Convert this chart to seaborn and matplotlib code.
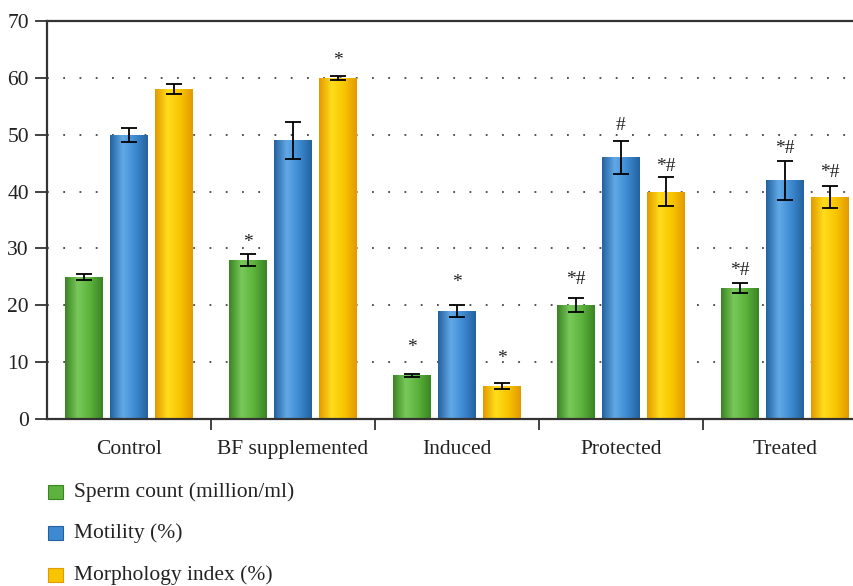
import numpy as np
import pandas as pd
import matplotlib
matplotlib.use("Agg")
import matplotlib.pyplot as plt
import seaborn as sns
from matplotlib.colors import LinearSegmentedColormap

groups = ["Control", "BF supplemented", "Induced", "Protected", "Treated"]
series = ["Sperm count (million/ml)", "Motility (%)", "Morphology index (%)"]

sperm_count = [25, 28, 7.7, 20, 23]
motility = [50, 49, 19, 46, 42]
morphology = [58, 60, 5.8, 40, 39]

sperm_err = [0.5, 1.1, 0.3, 1.2, 0.9]
motility_err = [1.2, 3.2, 1.1, 2.9, 3.4]
morphology_err = [0.9, 0.4, 0.5, 2.5, 1.9]

sperm_sig = ["", "*", "*", "*#", "*#"]
motility_sig = ["", "", "*", "#", "*#"]
morphology_sig = ["", "*", "*", "*#", "*#"]

# vertical gap (points) between the error-bar cap and the significance mark
sperm_gap = [0, 8, 19, 14, 9]
motility_gap = [0, 0, 16, 11, 9]
morphology_gap = [0, 11, 18, 8, 10]

base_colors = ["#5cb23c", "#3d8ad2", "#f7c500"]
dark_colors = ["#3a8424", "#23629f", "#e39a00"]
light_colors = ["#79c95a", "#62a9e6", "#ffdd1c"]

rows = []
for s, vals in zip(series, [sperm_count, motility, morphology]):
    for g, v in zip(groups, vals):
        rows.append({"group": g, "series": s, "value": v})
df = pd.DataFrame(rows)

sns.set_theme(style="white")
plt.rcParams["font.family"] = ["Liberation Serif", "DejaVu Serif"]

fig = plt.figure(figsize=(8.54, 5.86), dpi=100)
ax = fig.add_axes([47 / 854, 167 / 586, 820 / 854, 398 / 586])

sns.barplot(data=df, x="group", y="value", hue="series", order=groups,
            hue_order=series, palette=base_colors, width=0.825, gap=0.16,
            errorbar=None, ax=ax, legend=False, saturation=1)

errs = [sperm_err, motility_err, morphology_err]
sigs = [sperm_sig, motility_sig, morphology_sig]
gaps = [sperm_gap, motility_gap, morphology_gap]
vals_all = [sperm_count, motility, morphology]

# Patches come in hue order, then group order
patches = [p for p in ax.patches]
for si in range(3):
    cmap = LinearSegmentedColormap.from_list(
        f"c{si}", [dark_colors[si], light_colors[si], base_colors[si], dark_colors[si]])
    for gi in range(5):
        p = patches[si * 5 + gi]
        x0, w, h = p.get_x(), p.get_width(), p.get_height()
        p.set_facecolor("none")
        p.set_edgecolor("none")
        grad = np.linspace(0, 1, 64).reshape(1, -1)
        im = ax.imshow(grad, cmap=cmap, aspect="auto",
                       extent=[x0, x0 + w, 0, h], zorder=2, interpolation="bicubic")
        im.set_clip_path(p)
        xc = x0 + w / 2
        top = vals_all[si][gi] + errs[si][gi]
        ax.errorbar(xc, vals_all[si][gi], yerr=errs[si][gi], fmt="none",
                    ecolor="black", elinewidth=1.3, capsize=6, capthick=1.3, zorder=4)
        if sigs[si][gi]:
            ax.annotate(sigs[si][gi], xy=(xc, top), xytext=(0, gaps[si][gi]),
                        textcoords="offset points", ha="center", va="center",
                        fontsize=14, color="#222222", zorder=5)

ax.set_xlim(-0.5, 4.5)
ax.set_ylim(0, 70)
ax.set_yticks(range(0, 71, 10))
ax.set_xticks(range(5))
ax.set_xticklabels(groups)
ax.set_xticks([0.5, 1.5, 2.5, 3.5], minor=True)
ax.set_xlabel("")
ax.set_ylabel("")

for y in range(10, 61, 10):
    ax.axhline(y, color="#444444", linestyle=(0, (1, 8)), linewidth=1.3, zorder=1)

for side in ["left", "bottom", "top"]:
    ax.spines[side].set_visible(True)
    ax.spines[side].set_color("#333333")
    ax.spines[side].set_linewidth(1.6)
ax.spines["right"].set_visible(False)

ax.tick_params(axis="y", which="major", direction="out", length=9, width=1.3,
               color="#333333", labelsize=15.5, pad=4, left=True, labelcolor="#222222")
ax.tick_params(axis="x", which="major", length=0, labelsize=15.5, pad=15,
               labelcolor="#222222")
ax.tick_params(axis="x", which="minor", direction="out", length=8, width=1.3,
               color="#333333", bottom=True)

# Legend below the axes
legend_rows = [492, 533, 575]
for si, name in enumerate(series):
    yfig = 1 - legend_rows[si] / 586
    fig.patches.append(plt.Rectangle((48 / 854, yfig - 7 / 586), 15 / 854, 14 / 586,
                                     transform=fig.transFigure, facecolor=base_colors[si],
                                     edgecolor=dark_colors[si], linewidth=0.8))
    fig.text(74 / 854, yfig, name, fontsize=15.5, va="center", ha="left", color="#222222")

fig.savefig("out.png", dpi=100)
